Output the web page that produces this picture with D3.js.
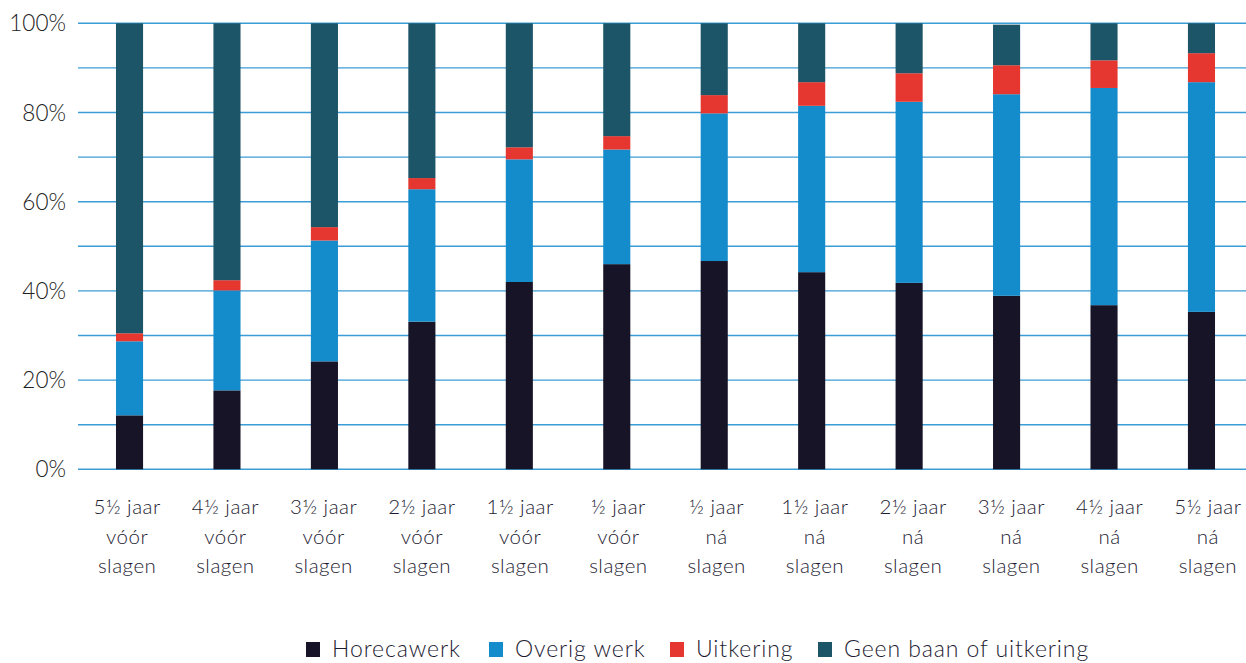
<!DOCTYPE html>
<html>
<head>
<meta charset="utf-8">
<script src="https://cdn.jsdelivr.net/npm/d3@7"></script>
<style>
  html, body { margin: 0; padding: 0; background: #fff; }
  svg { display: block; font-family: Lato, "Open Sans", sans-serif; }
</style>
</head>
<body>
<svg id="chart" width="1246" height="663"></svg>
<script>
// Periods around the moment of passing (slagen)
const categories = [
  "5½ jaar|vóór|slagen", "4½ jaar|vóór|slagen", "3½ jaar|vóór|slagen",
  "2½ jaar|vóór|slagen", "1½ jaar|vóór|slagen", "½ jaar|vóór|slagen",
  "½ jaar|ná|slagen", "1½ jaar|ná|slagen", "2½ jaar|ná|slagen",
  "3½ jaar|ná|slagen", "4½ jaar|ná|slagen", "5½ jaar|ná|slagen"
];

// Shares per situation, in percent
const horecawerk = [12.1, 17.7, 24.2, 33.1, 42.0, 46.0, 46.7, 44.2, 41.8, 38.9, 36.8, 35.3];
const overigWerk = [16.6, 22.4, 27.1, 29.7, 27.5, 25.7, 33.1, 37.3, 40.6, 45.2, 48.7, 51.5];
const uitkering  = [1.8, 2.3, 3.0, 2.5, 2.7, 3.0, 4.1, 5.3, 6.4, 6.5, 6.2, 6.5];
const geenBaan   = [69.5, 57.6, 45.7, 34.7, 27.8, 25.3, 16.1, 13.2, 11.2, 9.1, 8.3, 6.7];

const seriesNames = ["Horecawerk", "Overig werk", "Uitkering", "Geen baan of uitkering"];
const seriesValues = [horecawerk, overigWerk, uitkering, geenBaan];
const colors = ["#171428", "#148bca", "#e5362f", "#1c5468"];

const yTicks = [0, 20, 40, 60, 80, 100];
const gridTicks = [0, 10, 20, 30, 40, 50, 60, 70, 80, 90, 100];

const svg = d3.select("#chart");

const table = categories.map((c, i) => {
  const row = { cat: c };
  seriesNames.forEach((s, k) => row[s] = seriesValues[k][i]);
  return row;
});

const y = d3.scaleLinear().domain([0, 100]).range([469.3, 23.3]);
const xLabels = d3.scaleBand().domain(categories).range([78, 1257]);
const xBars = d3.scaleBand().domain(categories).range([80.8, 1250.2]).paddingInner(0.722).paddingOuter(0.361);

// Horizontal gridlines
svg.append("g")
  .selectAll("line")
  .data(gridTicks)
  .join("line")
  .attr("x1", 78).attr("x2", 1246)
  .attr("y1", d => y(d)).attr("y2", d => y(d))
  .attr("stroke", "#3a9dd6")
  .attr("stroke-width", 1.4);

// Y axis labels
const yAxis = d3.axisLeft(y).tickValues(yTicks).tickFormat(d => d + "%").tickSize(0).tickPadding(0);
const yg = svg.append("g").attr("transform", "translate(66,0)").call(yAxis);
yg.select(".domain").remove();
yg.selectAll("text")
  .attr("font-size", 22.5)
  .attr("font-weight", 300)
  .attr("fill", "#222")
  .attr("font-family", "Lato, sans-serif")
  .attr("dy", "0.34em");

// Stacked bars
const stack = d3.stack().keys(seriesNames);
const stacked = stack(table);

svg.append("g")
  .selectAll("g")
  .data(stacked)
  .join("g")
  .attr("fill", (d, i) => colors[i])
  .selectAll("rect")
  .data(d => d)
  .join("rect")
  .attr("x", d => xBars(d.data.cat))
  .attr("width", xBars.bandwidth())
  .attr("y", d => y(d[1]))
  .attr("height", d => y(d[0]) - y(d[1]));

// X axis labels (three lines each)
const xAxis = d3.axisBottom(xLabels).tickSize(0).tickFormat("");
const xg = svg.append("g").attr("transform", "translate(0,469)").call(xAxis);
xg.select(".domain").remove();
xg.selectAll(".tick").each(function(d) {
  const t = d3.select(this).append("text")
    .attr("text-anchor", "middle")
    .attr("fill", "#1e1c33")
    .attr("font-size", 20.5)
    .attr("font-weight", 300)
    .attr("letter-spacing", 0.5)
    .attr("font-family", "Lato, sans-serif");
  d.split("|").forEach((line, i) => {
    t.append("tspan").attr("x", 0).attr("y", 45 + i * 29.5).text(line);
  });
});

// Legend
const legendX = [306, 489, 670, 818];
const legend = svg.append("g")
  .selectAll("g")
  .data(seriesNames)
  .join("g")
  .attr("transform", (d, i) => `translate(${legendX[i]},642)`);
legend.append("rect")
  .attr("width", 14).attr("height", 15)
  .attr("fill", (d, i) => colors[i]);
legend.append("text")
  .attr("x", 26).attr("y", 15)
  .attr("font-size", 23)
  .attr("font-weight", 300)
  .attr("letter-spacing", 0.9)
  .attr("fill", "#1e1c33")
  .attr("font-family", "Lato, sans-serif")
  .text(d => d);
</script>
</body>
</html>
